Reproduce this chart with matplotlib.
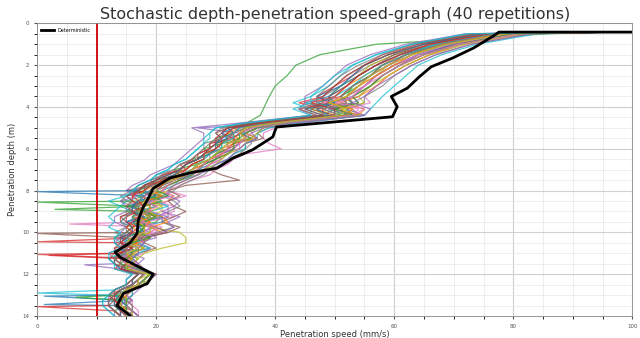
import numpy as np
import matplotlib
matplotlib.use("Agg")
import matplotlib.pyplot as plt
from matplotlib.ticker import MultipleLocator

# depth grid (m) shared by the stochastic runs
depth = [0.4, 0.5, 1.0, 1.5, 2.0, 2.5, 3.0, 3.5, 3.8, 4.1, 4.4,
         4.8, 5.0, 5.25, 5.5, 5.75, 6.0, 6.25, 6.5, 6.75, 7.0, 7.25, 7.5, 7.75,
         8.0, 8.25, 8.5, 8.75, 9.0, 9.25, 9.5, 9.75, 10.0, 10.25, 10.5, 10.75,
         11.0, 11.25, 11.5, 11.75, 12.0, 12.25, 12.5, 12.75, 13.0, 13.25, 13.5, 13.75, 14.0]

# penetration speed (mm/s) of the 40 repetitions: upper part (0.4-4.4 m) and lower part (4.8-14 m)
runs_top = [
    [100, 76, 66, 61, 57, 54, 52, 49, 45, 50, 48],
    [100, 80, 71, 65, 60, 57, 55, 52, 53, 51, 54],
    [100, 86, 57, 47.5, 43.5, 42, 40, 39, 38.5, 38, 37.5],
    [100, 74, 64, 58, 55, 52, 50, 47, 49, 44, 47],
    [100, 79, 70, 64, 61, 58, 56, 54, 50, 53, 54],
    [100, 77, 67, 62, 58, 56, 53, 51, 52, 48, 51],
    [100, 82, 72, 66, 62, 59, 57, 55, 56, 52, 55],
    [100, 75, 65, 60, 56, 53, 51, 48, 46, 47, 48],
    [100, 78, 69, 63, 59, 57, 54, 52, 50, 53, 52],
    [100, 73, 63, 57, 53, 51, 49, 46, 43, 46, 46],
    [100, 81, 70, 64, 60, 57, 55, 53, 49, 52, 53],
    [100, 76, 67, 61, 58, 55, 52, 50, 51, 47, 50],
    [100, 79, 69, 63, 59, 56, 54, 51, 53, 50, 51],
    [100, 77, 68, 62, 59, 56, 53, 51, 47, 51, 52],
    [100, 72, 62, 56, 52, 50, 48, 45, 45, 44, 46],
    [100, 80, 70, 65, 61, 58, 56, 53, 54, 50, 54],
    [100, 78, 68, 63, 59, 56, 54, 52, 48, 52, 52],
    [100, 83, 73, 67, 63, 60, 58, 55, 55, 52, 55],
    [100, 75, 66, 60, 56, 54, 51, 49, 50, 46, 49],
    [100, 84, 74, 68, 64, 62, 60, 58, 57, 56, 55],
    [100, 77, 67, 61, 57, 54, 51, 47, 50, 45, 48],
    [100, 81, 71, 66, 62, 59, 57, 54, 51, 55, 54],
    [100, 78, 68, 62, 58, 56, 53, 52, 53, 49, 52],
    [100, 74, 65, 59, 55, 53, 50, 48, 44, 48, 48],
    [100, 80, 70, 64, 60, 57, 55, 52, 53, 49, 53],
    [100, 76, 66, 60, 57, 54, 52, 49, 49, 46, 50],
    [100, 79, 69, 64, 60, 57, 55, 53, 50, 54, 53],
    [100, 73, 63, 58, 54, 51, 49, 47, 47, 44, 47],
    [100, 82, 72, 66, 62, 59, 56, 54, 55, 51, 54],
    [100, 77, 67, 62, 58, 55, 53, 50, 47, 50, 50],
    [100, 75, 65, 59, 55, 53, 51, 49, 50, 47, 49],
    [100, 78, 68, 63, 60, 57, 54, 52, 49, 53, 52],
    [100, 80, 71, 65, 61, 58, 56, 53, 54, 50, 53],
    [100, 76, 66, 61, 57, 54, 52, 50, 46, 50, 50],
    [100, 83, 73, 67, 63, 60, 57, 55, 53, 56, 55],
    [100, 74, 64, 59, 55, 52, 50, 48, 48, 45, 48],
    [100, 81, 71, 65, 61, 58, 55, 53, 51, 55, 53],
    [100, 77, 68, 62, 58, 56, 53, 51, 52, 48, 51],
    [100, 79, 69, 63, 59, 56, 54, 52, 49, 52, 51],
    [100, 72, 63, 57, 53, 50, 48, 46, 46, 43, 46],
]
runs_low = [
    [37, 33, 35, 32, 30, 31, 28, 27, 25, 24, 22, 19, 20, 16, 21, 18, 15, 19, 17, 15, 20, 17, 14, 16, 19, 15, 13, 14, 16, 18, 17, 16, 14, 13, 15, 14, 16, 15],
    [40, 36, 34, 36, 33, 31, 32, 29, 27, 26, 25, 22, 21, 20, 23, 22, 18, 17, 21, 17, 19, 21, 16, 18, 17, 17, 14, 15, 17, 19, 18, 18, 16, 15, 14, 14, 15, 16],
    [35, 32, 33, 30, 31, 28, 29, 26, 27, 23, 24, 20, 19, 17, 20, 18, 16, 18, 21, 20, 16, 15, 18, 16, 15, 14, 17, 16, 14, 18, 17, 17, 15, 13, 14, 15, 13, 14],
    [36, 32, 31, 33, 29, 29, 27, 27, 24, 25, 21, 22, 18, 18, 15, 16, 17, 17, 14, 14, 16, 16, 18, 17, 13, 13, 14, 15, 14, 17, 16, 16, 14, 12, 13, 13, 14, 14],
    [42, 27, 34, 36, 35, 34, 30, 31, 29, 28, 27, 24, 22, 21, 19, 19, 22, 22, 20, 18, 17, 19, 20, 17, 15, 16, 18, 17, 16, 20, 19, 18, 17, 16, 15, 15, 16, 17],
    [39, 35, 33, 33, 34, 32, 30, 29, 28, 27, 26, 23, 19, 15, 21, 19, 18, 17, 20, 16, 18, 18, 15, 15, 16, 16, 13, 14, 15, 18, 17, 17, 15, 14, 16, 13, 14, 15],
    [44, 40, 38, 38, 39, 41, 35, 33, 32, 30, 29, 26, 24, 22, 25, 22, 20, 21, 23, 18, 20, 20, 16, 17, 19, 18, 15, 16, 17, 19, 18, 18, 16, 15, 16, 16, 17, 17],
    [35, 31, 32, 30, 29, 28, 27, 26, 24, 23, 20, 20, 18, 17, 15, 14, 16, 15, 18, 16, 15, 13, 15, 14, 16, 15, 12, 13, 15, 17, 16, 15, 13, 13, 12, 12, 13, 14],
    [40, 37, 36, 35, 33, 33, 31, 30, 28, 27, 25, 24, 22, 20, 19, 18, 21, 21, 18, 17, 19, 24, 25, 25, 21, 18, 17, 16, 17, 20, 19, 17, 16, 15, 15, 15, 16, 16],
    [34, 30, 29, 29, 28, 27, 26, 25, 23, 22, 20, 19, 17, 16, 18, 15, 14, 16, 15, 14, 16, 15, 13, 14, 15, 14, 12, 13, 14, 16, 15, 15, 13, 12, 11, 11, 12, 13],
    [41, 37, 35, 37, 33, 33, 31, 30, 29, 27, 26, 23, 21, 20, 22, 19, 18, 18, 21, 21, 17, 18, 19, 16, 17, 15, 16, 16, 15, 19, 18, 17, 15, 14, 15, 14, 15, 15],
    [38, 34, 32, 34, 30, 30, 28, 28, 26, 25, 23, 21, 20, 18, 17, 20, 18, 17, 16, 19, 16, 17, 19, 17, 14, 14, 16, 15, 18, 18, 17, 17, 14, 13, 14, 13, 15, 15],
    [39, 35, 34, 36, 31, 31, 30, 29, 27, 26, 24, 22, 20, 19, 21, 18, 17, 17, 19, 16, 18, 17, 15, 16, 18, 15, 14, 15, 16, 18, 17, 16, 15, 14, 14, 15, 16, 16],
    [40, 36, 34, 33, 33, 32, 31, 29, 28, 26, 25, 23, 21, 20, 18, 18, 20, 17, 19, 17, 16, 16, 18, 15, 16, 14, 16, 16, 17, 19, 18, 17, 15, 14, 13, 14, 14, 14],
    [33, 26, 28, 28, 27, 26, 25, 24, 23, 21, 19, 18, 16, 15, 17, 14, 15, 15, 13, 13, 15, 14, 14, 13, 14, 12, 13, 13, 14, 16, 15, 15, 13, 12, 12, 12, 13, 13],
    [42, 38, 37, 38, 35, 35, 34, 32, 30, 29, 31, 34, 25, 22, 24, 22, 23, 25, 23, 21, 24, 22, 18, 18, 20, 17, 16, 17, 18, 20, 19, 18, 16, 16, 15, 16, 16, 17],
    [39, 36, 35, 35, 34, 33, 30, 31, 29, 28, 27, 25, 23, 21, 22, 20, 23, 23, 20, 18, 21, 19, 17, 18, 16, 16, 15, 17, 16, 18, 17, 17, 15, 14, 15, 14, 16, 16],
    [43, 39, 37, 36, 36, 35, 33, 32, 31, 29, 28, 26, 24, 23, 21, 23, 24, 22, 22, 21, 23, 20, 19, 18, 17, 17, 15, 16, 17, 19, 18, 18, 16, 15, 15, 16, 16, 16],
    [37, 33, 32, 32, 31, 30, 28, 28, 26, 25, 23, 21, 19, 18, 17, 17, 19, 18, 17, 17, 15, 16, 18, 15, 17, 15, 13, 14, 16, 18, 17, 16, 14, 13, 14, 14, 15, 15],
    [43, 39, 37, 37, 35, 35, 33, 32, 30, 28, 27, 24, 23, 21, 20, 20, 22, 19, 21, 18, 19, 19, 17, 17, 19, 17, 16, 16, 17, 19, 18, 18, 16, 16, 15, 15, 16, 16],
    [36, 32, 33, 31, 30, 29, 28, 27, 25, 24, 22, 20, 18, 17, 18, 17, 16, 17, 19, 16, 17, 17, 15, 14, 16, 14, 15, 15, 14, 18, 17, 16, 14, 13, 14, 15, 15, 15],
    [41, 37, 35, 37, 33, 33, 32, 30, 29, 28, 26, 24, 22, 21, 19, 18, 20, 18, 21, 22, 19, 19, 16, 16, 18, 16, 15, 16, 15, 19, 18, 17, 16, 15, 14, 14, 16, 16],
    [40, 36, 34, 34, 32, 32, 30, 30, 28, 27, 25, 23, 21, 20, 22, 19, 17, 18, 16, 17, 18, 18, 16, 15, 17, 15, 16, 15, 16, 18, 17, 17, 15, 14, 14, 14, 15, 15],
    [36, 32, 31, 30, 30, 29, 27, 26, 25, 24, 21, 20, 18, 17, 16, 16, 18, 17, 15, 15, 17, 16, 14, 14, 15, 14, 13, 14, 13, 17, 16, 15, 13, 13, 12, 12, 13, 14],
    [41, 37, 35, 35, 34, 33, 31, 30, 28, 27, 26, 23, 21, 20, 18, 19, 19, 19, 22, 17, 19, 18, 17, 16, 15, 15, 15, 16, 16, 19, 18, 17, 15, 14, 15, 15, 15, 15],
    [38, 34, 33, 32, 31, 30, 29, 28, 26, 25, 23, 20, 20, 19, 17, 18, 16, 16, 18, 17, 20, 22, 18, 15, 16, 16, 14, 14, 15, 18, 17, 16, 14, 14, 13, 13, 14, 15],
    [40, 36, 36, 35, 34, 34, 32, 31, 29, 28, 26, 24, 22, 21, 23, 19, 18, 18, 17, 17, 20, 19, 18, 17, 16, 16, 14, 15, 17, 19, 18, 17, 15, 14, 15, 15, 16, 16],
    [35, 31, 30, 31, 28, 28, 27, 26, 24, 23, 21, 19, 17, 16, 14, 15, 17, 15, 15, 14, 15, 15, 13, 13, 15, 13, 12, 13, 14, 17, 16, 15, 13, 13, 12, 12, 13, 14],
    [41, 38, 37, 36, 35, 34, 32, 31, 30, 28, 27, 25, 23, 22, 20, 20, 21, 19, 20, 18, 19, 19, 17, 16, 18, 16, 17, 16, 16, 19, 18, 18, 16, 15, 15, 15, 16, 16],
    [38, 34, 33, 33, 31, 31, 29, 28, 27, 26, 24, 22, 20, 19, 17, 18, 20, 17, 16, 16, 17, 17, 15, 15, 17, 15, 14, 15, 15, 18, 17, 16, 14, 13, 14, 14, 14, 15],
    [37, 33, 31, 32, 30, 30, 29, 27, 25, 24, 23, 21, 19, 18, 20, 17, 16, 16, 18, 15, 16, 16, 14, 15, 14, 15, 13, 13, 14, 17, 16, 16, 14, 13, 13, 13, 14, 14],
    [39, 35, 34, 35, 32, 32, 31, 29, 28, 26, 25, 22, 21, 19, 21, 18, 19, 19, 17, 19, 18, 18, 16, 17, 15, 15, 16, 15, 16, 18, 17, 17, 15, 15, 14, 14, 15, 16],
    [40, 37, 35, 34, 33, 33, 32, 30, 28, 27, 26, 24, 22, 20, 19, 21, 18, 18, 20, 18, 18, 17, 19, 16, 16, 16, 15, 14, 17, 19, 18, 17, 15, 14, 15, 15, 15, 16],
    [37, 33, 32, 31, 31, 30, 28, 28, 26, 25, 24, 21, 19, 18, 16, 17, 18, 16, 17, 16, 15, 16, 15, 14, 16, 14, 14, 15, 14, 18, 17, 16, 14, 13, 13, 14, 14, 15],
    [42, 38, 36, 37, 35, 34, 33, 32, 30, 29, 27, 25, 23, 22, 22, 24, 23, 21, 24, 22, 23, 21, 17, 18, 17, 17, 16, 17, 16, 20, 19, 18, 16, 15, 16, 15, 16, 17],
    [36, 32, 30, 31, 29, 29, 28, 27, 25, 24, 22, 20, 18, 17, 15, 16, 15, 16, 14, 15, 16, 15, 14, 14, 13, 14, 13, 13, 15, 17, 16, 15, 13, 12, 13, 12, 13, 14],
    [40, 36, 34, 35, 32, 32, 31, 29, 28, 27, 25, 23, 22, 20, 19, 18, 20, 19, 17, 18, 19, 18, 16, 15, 17, 15, 14, 15, 16, 18, 17, 17, 15, 14, 14, 14, 15, 16],
    [39, 35, 33, 32, 32, 31, 29, 29, 27, 26, 24, 22, 20, 19, 18, 17, 17, 19, 16, 16, 17, 17, 15, 16, 15, 15, 13, 14, 15, 18, 17, 16, 14, 14, 14, 14, 15, 15],
    [39, 35, 34, 35, 32, 31, 30, 29, 27, 26, 25, 23, 20, 20, 19, 18, 18, 17, 19, 17, 18, 18, 16, 15, 17, 15, 16, 15, 15, 19, 17, 17, 15, 14, 14, 14, 15, 15],
    [34, 30, 29, 28, 28, 27, 26, 25, 23, 22, 20, 19, 17, 16, 15, 12, 14, 13, 12, 13, 12, 14, 13, 13, 14, 12, 12, 13, 13, 16, 15, 15, 13, 12, 11, 11, 12, 13],
]

# extra off-grid readings (run index, depth, speed): the sharp drops towards 0
spikes = [
    (20, 8.05, 0), (12, 8.55, 0), (22, 8.9, 3), (6, 9.6, 5.5),
    (5, 10.05, 0), (3, 10.45, 0), (13, 11.05, 0), (33, 11.1, 2),
    (14, 11.55, 8), (9, 12.9, 0), (22, 13.1, 6.5),
    (10, 13.05, 1.2), (10, 13.45, 1.2), (23, 13.55, 0),
]

# deterministic run
det_depth = [0.42, 0.42, 0.63, 1.17, 1.66, 2.08, 2.56, 3.1, 3.5, 3.99, 4.47, 4.96, 5.43, 6.05, 6.45,
             6.93, 7.12, 7.4, 7.9, 8.46, 8.8, 9.42, 10.05, 10.5, 10.95, 11.2, 12.0, 12.45, 12.92, 13.5, 13.97]
det_speed = [100, 77.6, 76.5, 73.4, 69.8, 66.2, 64.2, 62.2, 59.5, 60.5, 59.7, 40.2, 39.6, 36.2, 32.9,
             30.2, 26.2, 22.3, 19.5, 18.5, 17.8, 17.0, 16.8, 15.6, 13.1, 14.0, 19.5, 18.5, 14.5, 13.4, 15.6]

limit_speed = 10

fig = plt.figure(figsize=(6.4, 3.38), dpi=100)
ax = fig.add_axes([0.058, 0.065, 0.93, 0.866])

for i in range(len(runs_top)):
    d = list(depth) + [s[1] for s in spikes if s[0] == i]
    v = runs_top[i] + runs_low[i] + [s[2] for s in spikes if s[0] == i]
    order = np.argsort(d, kind="stable")
    ax.plot(np.array(v)[order], np.array(d)[order], lw=0.9, alpha=0.75, color=f"C{i % 10}")

ax.plot(det_speed, det_depth, color="black", lw=2, label="Deterministic")
ax.axvline(limit_speed, color="#d00000", lw=1.3)

ax.set_xlim(0, 100)
ax.set_ylim(14, 0)
ax.xaxis.set_major_locator(MultipleLocator(20))
ax.xaxis.set_minor_locator(MultipleLocator(5))
ax.yaxis.set_major_locator(MultipleLocator(2))
ax.yaxis.set_minor_locator(MultipleLocator(0.5))
ax.grid(which="major", color="#d0d0d0", lw=0.8)
ax.grid(which="minor", color="#e8e8e8", lw=0.5)
ax.tick_params(labelsize=4, colors="#555555", length=2)
for sp in ax.spines.values():
    sp.set_color("#888888")
    sp.set_linewidth(0.6)

ax.set_title("Stochastic depth-penetration speed-graph (40 repetitions)", fontsize=11.5, color="#333333", pad=3)
ax.set_xlabel("Penetration speed (mm/s)", fontsize=6, color="#333333", labelpad=1)
ax.set_ylabel("Penetration depth (m)", fontsize=6, color="#333333", labelpad=4)
ax.legend(loc="upper left", fontsize=3.5, frameon=False, handlelength=2.5)

fig.savefig("out.png", dpi=100)
